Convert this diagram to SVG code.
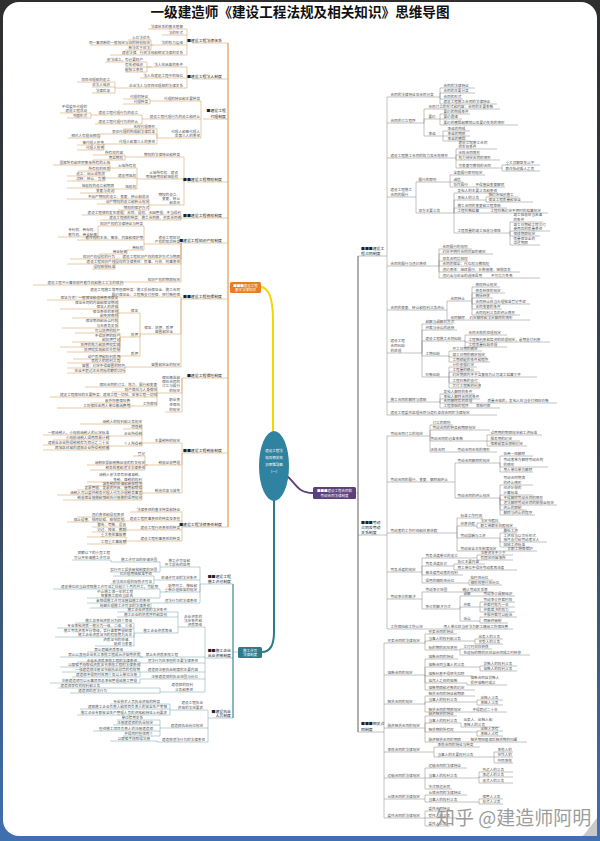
<svg xmlns="http://www.w3.org/2000/svg" width="600" height="841" viewBox="0 0 600 841">
<defs>
<linearGradient id="fr" x1="0" y1="0" x2="0" y2="1"><stop offset="0" stop-color="#2e2e2e"/><stop offset="0.6" stop-color="#3a4a5e"/><stop offset="1" stop-color="#3f70b0"/></linearGradient>
<style>
text{font-family:"Noto Sans CJK SC","Noto Sans",sans-serif;font-size:3.6px;fill:#555}
.tl{text-anchor:end}
.m{font-size:3.9px;fill:#222}
.lo{fill:none;stroke:#d9a56e;stroke-width:.6}
.lr{fill:none;stroke:#8f8f8f;stroke-width:.55}
.lt{fill:none;stroke:#7ea9b1;stroke-width:.55}
.w{fill:#fff;font-size:3.5px;text-anchor:middle}
</style>
</defs>
<rect width="600" height="841" fill="url(#fr)"/>
<rect x="3" y="2" width="594" height="834" rx="16" fill="#fff"/>
<polygon points="583,836 597,818 597,836" fill="#c9c9c9"/>
<text x="300" y="17" style="font-size:13.6px;font-weight:bold;fill:#111;text-anchor:middle">一级建造师《建设工程法规及相关知识》思维导图</text>

<g id="connectors">
<path class="lo" d="M228 43V527M228 287H230M192 43H228M192 79H228M203 119H228M187 182H228M187 218H228M183 243H228M187 299H228M192 378H228M188 453H228M185 527H228M148 29H187V43M162 35H187M153 45H187M110 55H187V43M128 40H151V45H153M90 45H153M125 50H151V45M152 67H187V79M140 78H187M125 88H187V79M105 62H147V67H152M125 67H152M125 72H147V67M77 82H115V88H125M92 87H115M92 93H115V88M153 101H201V119M145 119H201M160 138H201V119M123 99H150V101H153M123 104H150V101M95 115H142V119H145M95 124H142V119M60 113H91V115H95M67 118H91V115M123 129H157V138H160M103 134H157V138M107 144H157V138M68 138H100V134H103M77 145H104V144H107M77 150H104V144M133 157H184V182M140 179H184V182M152 205H184V182M93 155H125V157H133M93 160H125V157M113 168H137V179H140M113 178H137M120 189H137V179M53 165H110V168H113M78 171H110V168M67 176H105V178H113M67 181H105V178M67 188H114V189H120M80 193H114V189M67 199H149V205H152M97 204H149M118 210H149V205M82 215H181V218H187M100 220H181V218M147 244H181V243H183M120 259H181V243M67 264H181V243M126 282H181V243M100 226H144V244H147M77 240H144M130 250H144V244M100 254H127V250H130M58 237H98V226H100M70 259H120M92 269H115V259M33 285H123V282H126M72 297H181V299H187M143 334H181V299M140 367H181V299M123 313H140V334H143M128 337H140V334M128 356H140V334M47 300H118V313H123M60 309H118V313M72 318H118V313M62 328H118V313M75 333H120V337H128M72 342H120V337M60 347H120V337M67 352H120V337M73 359H120V356H128M67 363H120V356M67 368H125V367H140M67 373H125V367M160 393H182V378H192M165 412H182V378M85 387H157V393H160M112 392H157V393M50 397H157V393M135 406H157V393M90 403H130V406H135M57 408H130V406M147 443H182V453H188M148 465H182V453M147 493H182V453M80 424H142V443H147M123 429H142M112 436H142M112 446H142V443M43 435H109V436H112M53 440H109V436M43 445H109V446H112M43 450H109V446M133 456H145V465H148M87 465H148M90 470H145V465M87 482H142V493H147M87 486H142M77 490H142M57 495H142M63 500H142V493M130 512H182V527H185M128 521H182M130 530H182M130 541H182V527M77 517H124V521H128M67 522H124V521M92 527H126V530H130M92 532H126V530M87 537H126V541H130M87 544H126V541"/>
<path d="M228 43V527" stroke="#e39b4f" stroke-width="0.9" fill="none"/>
<path class="lt" d="M233 584V718M233 652H238M208 584H233M208 658H233M212 718H233M163 567H200V584H208M157 580H200M163 592H200V584M155 603H200V584M113 562H160V567H163M110 572H160V567M72 560H111V562H113M113 576H154V580H157M110 584H154V580M53 589H160V592H163M87 598H160V592M87 603H155M90 608H151V603M182 627H205V658H208M143 657H205M143 663H205M143 672H205M143 679H205M163 692H205V658M117 612H178V627H182M117 617H178M137 633H178V627M75 623H134V633H137M57 628H134M55 637H134V633M95 646H134V633M87 652H140V657H143M60 657H143M77 662H140V663H143M60 667H140V663M62 672H143M72 677H140V672M50 683H140V679H143M58 688H160V692H163M70 693H160V692M173 710H208V718H212M163 728H208M160 742H208V718M110 704H170V710H173M80 709H170M77 715H170V710M117 720H160V728H163M113 725H160M93 731H160M123 736H160V728M110 741H157V742H160"/>
<path d="M233 584V718" stroke="#2c7a8c" stroke-width="0.9" fill="none"/>
<path class="lr" d="M358 256V732M356 493H358M358 256H387M387 97V415M387 97H440M440 97V88H475M440 97V93H475M440 97V99H463M440 97V104H497M387 123H424M424 123V109H500M424 123V119H440M424 123V136H443M440 119V114H470M440 119H462M440 119V125H518M443 136V131H470M443 136H470M443 136V141H470M387 158H456M456 158V149H497M456 158V155H480M456 158V160H500M456 158V168H502M502 168V165H540M502 168V171H540M387 197H416M416 197V182H450M416 197V213H454M450 182V175H485M450 182H463M450 182V187H505M454 213V193H498M454 213V200H486M454 213V208H507M454 213H548M454 213V233H510M486 200V197H518M486 200V202H533M510 233V222H543M510 233V231H550M510 233V236H540M510 233V245H540M387 266H439M439 266V249H472M439 266V254H493M439 266V261H468M439 266H490M439 266V272H520M439 266V278H540M387 310H447M447 310V301H472M447 310V320H530M472 301V287H500M472 301V293H505M472 301V298H493M472 301V304H530M472 301V309H502M472 301V315H520M387 353H422M422 353V324H453M422 353V330H457M422 353V341H465M422 353V356H449M422 353V377H449M465 341V335H507M465 341V342H550M465 341V347H507M449 356V351H482M449 356V357H487M449 356V362H490M449 377V367H477M449 377V372H480M449 377H537M449 377V383H480M449 377V388H480M387 402H440M440 402V394H475M440 402V399H480M440 402V403H557M440 402V408H500M387 415H497M358 535H387M387 436V629M387 436H430M430 436V425H453M430 436V430H490M430 436V441H487M430 436V452H497M487 441V435H542M487 441H520M487 441V446H527M387 482H455M455 482V463H500M455 482V498H500M500 463V456H533M500 463V467H548M500 463V472H533M500 498V485H533M500 498V495H533M500 498V500H543M500 498V505H557M500 498V510H527M500 498V515H535M387 533H457M457 533V518H483M457 533V526H477M457 533V538H500M457 533V551H537M477 526V523H500M477 526V528H517M500 538V533H517M500 538V542H547M500 538V547H530M387 572H422M422 572V558H477M422 572V566H454M422 572V575H463M422 572V583H469M477 558V555H513M477 558V560H513M454 566V564H485M454 566V570H517M469 583V580H493M469 583V585H502M387 599H422M422 599V592H493M422 599V609H460M460 609V596H515M460 609V607H480M460 609V621H480M480 607V602H515M480 607H515M480 607V612H515M480 621V617H517M480 621V623H508M387 629H513M358 732H384M384 643V818M384 643H425M425 643V634H457M425 643V641H475M425 643V650H460M475 641V639H503M475 641V644H503M460 650V649H492M460 650V655H530M384 675H425M425 675V659H458M425 675V667H480M425 675V676H473M425 675V683H467M425 675V690H475M480 667V666H517M480 667V671H517M467 683V685H507M384 704H425M425 704V696H475M425 704V702H477M425 704V712H507M477 702V700H503M477 702V705H503M384 728H425M425 728V716H457M425 728V723H461M425 728V732H477M425 728V742H527M461 723V727H500M477 732V731H503M477 732V736H503M384 752H434M434 752V747H480M434 752V757H494M494 757V752H513M494 757H513M494 757V763H513M384 778H425M425 778V768H467M425 778H479M425 778V789H452M479 778V772H513M479 778V777H513M479 778V783H513M384 799H425M425 799V795H467M425 799V802H479M479 802V799H503M479 802V804H503M384 818H425M425 818V811H452M425 818H457M425 818V826H450"/>
<path d="M358 256V732" stroke="#666" stroke-width="0.8" fill="none"/>
<path d="M261 287C270 288 273 300 273 320V433" stroke="#f2d600" stroke-width="2" fill="none"/>
<path d="M287 476C295 482 297 493 313 493" stroke="#5b3f7e" stroke-width="1.8" fill="none"/>
<path d="M274 500V632C274 645 270 652 262 652" stroke="#2c7a8c" stroke-width="2" fill="none"/>
</g>

<g id="center">
<ellipse cx="274" cy="466" rx="15" ry="35" fill="#2f83a1"/>
<text class="w" x="274" y="452">建设工程法</text>
<text class="w" x="274" y="459">规及相关知</text>
<text class="w" x="274" y="466">识思维导图</text>
<text class="w" x="274" y="473">（一）</text>
</g>
<g id="main-orange">
<rect x="230" y="282" width="31" height="11" rx="1.5" fill="#e67e22"/>
<text class="w" x="245.5" y="286.6">■■■建设工程</text>
<text class="w" x="245.5" y="291.2">基本法律知识</text>
</g>
<g id="main-purple">
<rect x="313" y="487" width="43" height="12" rx="1.5" fill="#5b3f7e"/>
<text class="w" x="334.5" y="492">■■■建设工程合同和</text>
<text class="w" x="334.5" y="497">劳动合同法律制度</text>
</g>
<g id="main-teal">
<rect x="238" y="647" width="24" height="11" rx="1.5" fill="#2c7a8c"/>
<text class="w" x="250" y="651.6">施工许可</text>
<text class="w" x="250" y="656.2">法律制度</text>
</g>

<g id="orange-tree" class="tl">
<g id="s1"><text class="tl m" x="222" y="42.2">■建设工程法律体系</text>
<text class="tl" x="183" y="28.2">法律体系的基本框架</text><text class="tl" x="183" y="34.2">法的形式</text><text class="tl" x="183" y="44.2">法的效力层级</text><text class="tl" x="150" y="39.2">上位法优先</text><text class="tl" x="150" y="44.2">同一事项新的一般规定与旧的特别规定</text><text class="tl" x="150" y="49.2">新法优于旧法</text><text class="tl" x="183" y="54.2">建设法律、行政法规和相关法律的关系</text></g>
<g id="s2"><text class="tl m" x="222" y="78.2">■建设工程法人制度</text>
<text class="tl" x="183" y="66.2">法人应具备的条件</text><text class="tl" x="143" y="61.2">依法成立，有必要财产</text><text class="tl" x="143" y="66.2">有名称组织</text><text class="tl" x="143" y="71.2">能独立承担</text><text class="tl" x="183" y="77.2">法人在建设工程中的地位</text><text class="tl" x="183" y="87.2">企业法人与项目经理部的法律关系</text><text class="tl" x="110" y="81.2">项目经理部的设立</text><text class="tl" x="110" y="86.2">非法人组织</text><text class="tl" x="110" y="92.2">法律后果</text></g>
<g id="s3"><text class="tl m" x="226" y="112.2">■建设工程<tspan x="226" y="118.2">代理制度</tspan></text>
<text class="tl" x="200" y="100.2">代理的特征和主要种类</text><text class="tl" x="148" y="98.2">代理的特征</text><text class="tl" x="148" y="103.2">代理种类</text><text class="tl" x="200" y="118.2">建设工程代理行为的设立和终止</text><text class="tl" x="138" y="114.2">建设工程代理行为的设立</text><text class="tl" x="87" y="108.2">不得委托代理的<tspan x="87" y="112.2">建设工程活动</tspan></text><text class="tl" x="87" y="117.2">书面形式</text><text class="tl" x="138" y="123.2">建设工程代理行为的终止</text><text class="tl" x="200" y="133.2">代理人和被代理人<tspan x="200" y="137.2">及第三人的责任</tspan></text><text class="tl" x="155" y="128.2">无权代理情形</text><text class="tl" x="155" y="133.2">表见代理的构成和法律后果</text><text class="tl" x="100" y="137.2">相对人有理由相信</text><text class="tl" x="155" y="143.2">代理人和第三人的责任</text><text class="tl" x="104" y="144.2">被代理人担责</text><text class="tl" x="104" y="149.2">代理人担责</text></g>
<g id="s4"><text class="tl m" x="222" y="181.2">■■建设工程物权制度</text>
<text class="tl" x="180" y="156.2">物权的法律特征和种类</text><text class="tl" x="123" y="154.2">所有权内容</text><text class="tl" x="123" y="159.2">用益物权</text><text class="tl" x="178" y="174.2">土地所有权、建设<tspan x="178" y="178.2">用地使用权和地役权</tspan></text><text class="tl" x="136" y="167.2">土地所有权</text><text class="tl" x="110" y="164.2">国家所有和农民集体所有的土地</text><text class="tl" x="110" y="170.2">所有权的性质</text><text class="tl" x="136" y="177.2">建设用地权</text><text class="tl" x="105" y="175.2">设立：出让或划拨</text><text class="tl" x="105" y="180.2">流转：转让、互换</text><text class="tl" x="136" y="188.2">地役权</text><text class="tl" x="114" y="187.2">地役权的设立和期限</text><text class="tl" x="114" y="192.2">变更与消灭</text><text class="tl" x="180" y="196.2">物权的设立、<tspan x="180" y="200.2">变更、转让</tspan><tspan x="180" y="204.2">和消灭</tspan></text><text class="tl" x="149" y="198.2">不动产物权的设立、变更、转让和消灭</text><text class="tl" x="149" y="203.2">动产物权的设立和转让规定</text><text class="tl" x="149" y="209.2">物权的保护方式</text></g>
<g id="s5"><text class="tl m" x="222" y="217.2">■■建设工程债权制度</text>
<text class="tl" x="181" y="214.2">建设工程债的发生根据：合同、侵权、无因管理、不当得利</text><text class="tl" x="181" y="219.2">建设工程债的种类：施工合同债、买卖合同债</text></g>
<g id="s6"><text class="tl m" x="222" y="242.2">■建设工程知识产权制度</text>
<text class="tl" x="180" y="239.2">建设工程知识<tspan x="180" y="243.2">产权的常见种类</tspan></text><text class="tl" x="143" y="225.2">知识产权的法律特征与种类</text><text class="tl" x="97" y="231.2">专利权、商标权、<tspan x="97" y="236.2">著作权、商业秘密</tspan></text><text class="tl" x="143" y="239.2">著作权的主体、客体、内容和保护期</text><text class="tl" x="143" y="249.2">商标权</text><text class="tl" x="127" y="253.2">商业秘密</text><text class="tl" x="180" y="258.2">建设工程知识产权的保护方式与期限</text><text class="tl" x="115" y="258.2">知识产权侵权的行为</text><text class="tl" x="115" y="268.2">侵权赔偿标准</text><text class="tl" x="180" y="263.2">建设工程知识产权侵权的法律责任：民事、行政、刑事责任</text><text class="tl" x="180" y="281.2">知识产权的期限规定</text><text class="tl" x="123" y="284.2">建设工程中计算机软件著作权和施工工法的保护</text></g>
<g id="s7"><text class="tl m" x="222" y="298.2">■■建设工程担保制度</text>
<text class="tl" x="180" y="291.2">建设工程施工常用担保种类：施工投标保证金、施工合同<tspan x="180" y="296.2">履约保证金、工程款支付担保、预付款担保</tspan></text><text class="tl" x="173" y="329.2">保证、抵押、质押<tspan x="173" y="333.2">留置和定金</tspan></text><text class="tl" x="138" y="312.2">保证</text><text class="tl" x="118" y="299.2">保证方式：一般保证和连带责任保证</text><text class="tl" x="118" y="304.2">保证合同的内容和保证期间<tspan x="118" y="308.2">保证人的资格</tspan></text><text class="tl" x="118" y="312.6">保证责任的承担<tspan x="118" y="317.2">和免除情形</tspan></text><text class="tl" x="118" y="322.2">保证期间和诉讼时效<tspan x="118" y="327.2">与主债务关系</tspan></text><text class="tl" x="138" y="336.2">抵押</text><text class="tl" x="120" y="332.2">可以抵押的财产</text><text class="tl" x="120" y="336.6">不得抵押的财产<tspan x="120" y="341.2">和抵押登记</tspan></text><text class="tl" x="120" y="346.2">抵押的效力和抵押权实现</text><text class="tl" x="120" y="351.2">抵押权实现和优先受偿</text><text class="tl" x="138" y="355.2">质押</text><text class="tl" x="120" y="358.2">动产质押和权利质押</text><text class="tl" x="120" y="362.4">质权人的权利义务</text><text class="tl" x="180" y="366.2">留置和定金的规定</text><text class="tl" x="125" y="367.4">留置：约定不得留置的除外</text><text class="tl" x="125" y="372.2">定金不超过主合同标的额的20%</text></g>
<g id="s8"><text class="tl m" x="222" y="377.2">■建设工程保险制度</text>
<text class="tl" x="180" y="379.2">保险概念和<tspan x="180" y="383.2">保险合同的</tspan><tspan x="180" y="387.2">订立与履行</tspan><tspan x="180" y="392.2">的规定</tspan></text><text class="tl" x="157" y="386.2">保险合同的订立、效力、履行和变更</text><text class="tl" x="157" y="391.2">财产保险与人身保险</text><text class="tl" x="157" y="396.2">建设工程保险的主要种类：建筑工程一切险、安装工程一切险</text><text class="tl" x="157" y="405.2">工伤保险</text><text class="tl" x="130" y="402.2">意外伤害保险费</text><text class="tl" x="130" y="407.2">工伤保险由用人单位缴纳费用</text><text class="tl" x="180" y="401.2">职业责<tspan x="180" y="406.2">任保险</tspan><tspan x="180" y="411.2">的规定</tspan></text></g>
<g id="s9"><text class="tl m" x="222" y="452.2">■■建设工程税收制度</text>
<text class="tl" x="180" y="442.2">主要税种的规定</text><text class="tl" x="142" y="423.2">纳税人的权利和义务规定</text><text class="tl" x="142" y="428.2">增值税</text><text class="tl" x="142" y="435.2">企业所得税</text><text class="tl" x="109" y="434.2">一般纳税人，小规模纳税人的认定标准</text><text class="tl" x="109" y="439.2">小规模纳税人适用简易计税</text><text class="tl" x="142" y="445.2">个人所得税</text><text class="tl" x="109" y="444.2">建筑业企业所得税税率为百分之二十五</text><text class="tl" x="109" y="449.2">跨地区经营的建筑企业所得税预缴</text><text class="tl" x="180" y="464.2">税收征收管理</text><text class="tl" x="145" y="455.2">登记</text><text class="tl" x="145" y="464.2">纳税申报和税款征收的有关规定</text><text class="tl" x="145" y="469.2">税务检查和违法法律责任</text><text class="tl" x="180" y="492.2">税收优惠与减免</text><text class="tl" x="142" y="476.2">纳税人依法享有申请减税、<tspan x="142" y="481.2">免税、退税的权利</tspan></text><text class="tl" x="142" y="485.2">减免税的申请和审批程序</text><text class="tl" x="142" y="489.2">发票管理：发票的开具、使用和取得</text><text class="tl" x="142" y="494.2">纳税人可以委托税务代理人代为办理税务事宜</text><text class="tl" x="142" y="499.2">税收保全措施和强制执行措施的适用规定</text></g>
<g id="s10"><text class="tl m" x="222" y="526.2">■建设工程法律责任制度</text>
<text class="tl" x="180" y="511.2">法律责任的基本种类和特征</text><text class="tl" x="180" y="520.2">建设工程民事责任的种类及承担</text><text class="tl" x="124" y="516.2">违约责任和侵权责任</text><text class="tl" x="124" y="521.2">停止侵害、排除妨碍、赔偿损失</text><text class="tl" x="180" y="529.2">建设工程行政责任的种类</text><text class="tl" x="126" y="526.2">警告、罚款、没收</text><text class="tl" x="126" y="531.2">记过、降级、撤职</text><text class="tl" x="180" y="540.2">建设工程刑事责任的种类</text><text class="tl" x="126" y="536.2">重大责任事故罪</text><text class="tl" x="126" y="543.2">工程重大事故罪</text></g>
</g>

<g id="teal-tree">
<g id="t1"><text class="tl m" x="231" y="578.2">■■建设工程<tspan x="231" y="583.2">施工许可制度</tspan></text>
<text class="tl" x="190" y="562.2">施工许可证和<tspan x="190" y="566.2">开工报告的适用</tspan></text><text class="tl" x="157" y="561.2">施工许可证的申请范围</text><text class="tl" x="110" y="554.2">限额以下的小型工程<tspan x="110" y="559.2">可以不申请施工许可证</tspan></text><text class="tl" x="157" y="571.2">实行开工报告审批制度的范围</text><text class="tl" x="197" y="579.2">申请许可证的法定条件</text><text class="tl" x="152" y="575.2">已办理用地批准手续</text><text class="tl" x="152" y="583.2">依法应办理的规划许可证</text><text class="tl" x="197" y="587.2">延期开工、核验和<tspan x="197" y="591.2">重新办理批准的规定</tspan></text><text class="tl" x="158" y="588.2">建设单位应当自领取施工许可证之日起三个月内开工，可延期</text><text class="tl" x="133" y="593.4">中止施工满一年的工程<tspan x="133" y="597.4">恢复施工前应当报告</tspan></text><text class="tl" x="197" y="602.2">违法行为的法律责任</text><text class="tl" x="150" y="602.2">未取得施工许可证擅自施工的责任</text><text class="tl" x="150" y="607.2">规避办理施工许可证的法律责任</text></g>
<g id="t2"><text class="tl m" x="231" y="652.2">■■施工企业<tspan x="231" y="657.2">从业资格制度</tspan></text>
<text class="tl" x="202" y="618.2">企业资质的<tspan x="202" y="622.2">法定条件和</tspan><tspan x="202" y="626.2">资质等级</tspan></text><text class="tl" x="167" y="611.2">施工企业资质的法定条件</text><text class="tl" x="167" y="616.2">施工企业的资质序列和类别</text><text class="tl" x="172" y="632.2">施工企业资质等级</text><text class="tl" x="132" y="622.2">施工总承包资质分为四个等级</text><text class="tl" x="132" y="627.2">专业承包资质一般分为一级、二级、三级</text><text class="tl" x="132" y="632.2">施工劳务资质不分等级，实行备案管理制度<tspan x="132" y="636.2">施工企业资质证书的有效期为五年</tspan></text><text class="tl" x="132" y="641.2">资质证书的申请、<tspan x="132" y="645.2">延续与变更</tspan></text><text class="tl" x="178" y="656.2">禁止无资质承揽工程</text><text class="tl" x="123" y="651.2">禁止超越资质等级</text><text class="tl" x="140" y="656.2">禁止以其他企业名义承揽工程或允许借用资质</text><text class="tl" x="198" y="662.2">违法行为应承担的主要法律责任</text><text class="tl" x="137" y="661.6">企业无资质承揽工程的法律责任</text><text class="tl" x="140" y="666.2">以欺骗手段取得资质证书承揽工程的法律责任</text><text class="tl" x="198" y="671.2">建造师注册执业制度的主要内容</text><text class="tl" x="140" y="671.2">一级建造师注册证书和执业印章的有效期</text><text class="tl" x="137" y="676.2">建造师不得同时在两个及以上单位注册</text><text class="tl" x="198" y="678.2">注册建造师的执业范围与岗位</text><text class="tl" x="137" y="682.2">注册建造师可以从事项目总承包管理或施工管理</text><text class="tl" x="193" y="686.2">建造师的权利<tspan x="193" y="691.2">义务和责任</tspan></text><text class="tl" x="100" y="687.2">建造师享有的权利和义务</text><text class="tl" x="107" y="692.2">建造师的违法行为</text></g>
<g id="t3"><text class="tl m" x="231" y="713.2">■建设执业<tspan x="231" y="717.2">人员制度</tspan></text>
<text class="tl" x="203" y="704.2">建设工程执业<tspan x="203" y="709.2">资格的法定要求</tspan></text><text class="tl" x="160" y="703.2">专业技术人员执业资格的种类</text><text class="tl" x="167" y="708.2">建筑施工企业负责人和项目负责人的安全生产考核</text><text class="tl" x="167" y="714.2">施工企业专职安全生产管理人员的资格和持证上岗要求</text><text class="tl" x="203" y="727.2">建造师执业岗位规定</text><text class="tl" x="143" y="719.2">单位聘用关系</text><text class="tl" x="153" y="724.2">注册建造师的执业规定</text><text class="tl" x="153" y="730.2">担任施工项目负责人的注册建造师</text><text class="tl" x="153" y="735.2">不得同时担任两个</text><text class="tl" x="205" y="741.2">建造师违法行为的法律责任</text><text class="tl" x="150" y="740.2">以欺骗手段取得注册</text></g>
</g>

<g id="right-tree">
<g id="r1"><text class="m" x="361" y="250">■■■建设工<tspan x="361" y="255.2">程合同制度</tspan></text>
<text x="390.5" y="96.2">合同的法律特征及合同分类</text><text x="443.5" y="87.2">合同的法律特征</text><text x="443.5" y="92.2">合同的主要分类</text><text x="443.5" y="98.2">合同的形式</text><text x="443.5" y="103.2">建设工程施工合同的法律特征</text>
<text x="390.5" y="122.2">合同的订立程序</text><text x="428.5" y="108.2">合同订立的形式和内容：合同的主要条款</text><text x="428.5" y="118.2">要约</text><text x="443.5" y="113.2">要约的构成条件</text><text x="443.5" y="118.2">要约邀请</text><text x="443.5" y="124.2">要约的撤回和撤销以及要约失效的情形</text><text x="428.5" y="135.2">承诺</text><text x="447.5" y="130.2">承诺的构成</text><text x="447.5" y="135.2">承诺的期限</text><text x="447.5" y="140.2">承诺的撤回</text>
<text x="390.5" y="157.2">建设工程施工合同的效力及无效情形</text><text x="458.5" y="144.2">建设工程施工合同<tspan x="458.5" y="148.2">的生效条件</tspan></text><text x="458.5" y="154.2">无效合同情形</text><text x="458.5" y="159.2">效力待定合同的情形</text><text x="458.5" y="167.2">可变更可撤销的合同</text><text x="505.5" y="164.2">重大误解显失公平</text><text x="505.5" y="170.2">欺诈胁迫乘人之危</text>
<text x="390.5" y="191.2">建设工程施工<tspan x="390.5" y="196.2">合同的履行</tspan></text><text x="418.5" y="181.2">履行的原则</text><text x="453.5" y="174.2">全面履行原则规定</text><text x="453.5" y="181.2">诚信</text><text x="453.5" y="186.2">协作履行</text><text x="475.5" y="186.2">不得擅自变更解除</text><text x="418.5" y="212.2">双方主要义务</text><text x="457.5" y="192.2">发包人的主要义务和责任</text><text x="457.5" y="199.2">承包人的义务</text><text x="488.5" y="196.2">按约定组织施工</text><text x="488.5" y="201.2">保证工程质量和安全</text><text x="457.5" y="207.2">施工合同的变更和工程索赔</text><text x="457.5" y="212.2">工程价款结算</text><text x="490.5" y="212.2">工程价款约定不明时的结算规定</text><text x="457.5" y="232.2">工程质量的竣工验收与保修</text><text x="513.5" y="216.2">竣工验收应当具备<tspan x="513.5" y="221.2">的条件</tspan></text><text x="513.5" y="225.6">竣工日期和工程交付<tspan x="513.5" y="230.2">使用后的质量责任</tspan></text><text x="513.5" y="235.2">保修期限规定</text><text x="513.5" y="240.2">质量保证金的<tspan x="513.5" y="244.2">返还期限</tspan></text>
<text x="390.5" y="265.2">合同的履行与违约责任</text><text x="442.5" y="248.2">合同履行的规则</text><text x="442.5" y="253.2">约定不明时合同内容的确定</text><text x="442.5" y="260.2">双务合同抗辩权</text><text x="442.5" y="265.2">合同的保全：代位权与撤销权</text><text x="442.5" y="271.2">违约责任：继续履行、补救措施、赔偿损失</text><text x="442.5" y="277.2">违约金与定金的选择适用</text><text x="491" y="277.2">不可抗力免责</text>
<text x="390.5" y="309.2">合同的变更、转让和权利义务终止</text><text x="450.5" y="300.2">合同转让</text><text x="475.5" y="286.2">债权转让规定</text><text x="475.5" y="292.2">债务转移的规定</text><text x="475.5" y="297.2">概括转移</text><text x="475.5" y="303.2">合同转让应当办理批准登记手续</text><text x="475.5" y="308.2">合同变更的条件</text><text x="475.5" y="314.2">合同权利义务的终止情形</text><text x="450.5" y="319.2">合同解除</text><text x="469.5" y="319.2">约定解除和法定解除的情形</text>
<text x="390.5" y="342.2">建设工程<tspan x="390.5" y="347.2">合同纠纷</tspan><tspan x="390.5" y="352.2">的处理</tspan></text><text x="425.5" y="323.2">和解与调解的方式</text><text x="425.5" y="329.2">仲裁与诉讼的选择</text><text x="425.5" y="340.2">建设工程施工合同纠纷</text><text x="468.5" y="334.2">合同无效的处理规定</text><text x="468.5" y="341.2">工程款利息和垫资的处理规定，逾期支付利息</text><text x="468.5" y="346.2">工程质量纠纷处理</text><text x="425.5" y="355.2">工期纠纷</text><text x="452.5" y="350.2">开工日期的确定</text><text x="452.5" y="356.2">竣工日期的确定规定</text><text x="452.5" y="361.2">工期顺延的条件和程序</text><text x="425.5" y="376.2">价款纠纷</text><text x="452.5" y="366.2">计价依据约定</text><text x="452.5" y="371.2">工程量的确认</text><text x="452.5" y="376.2">约定期限内不予答复视为认可竣工结算文件</text><text x="452.5" y="382.2">工程价款的支付</text><text x="452.5" y="387.2">欠付工程款的利息</text>
<text x="390.5" y="401.2">施工合同的解除与索赔</text><text x="443.5" y="393.2">发包人解除的条件</text><text x="443.5" y="398.2">承包人解除合同的条件</text><text x="443.5" y="402.4">合同解除后的处理</text><text x="487.5" y="402.4">质量合格的，发包人应当支付相应价款</text><text x="443.5" y="407.2">工程索赔的程序</text><text x="476" y="407.2">索赔时限</text>
<text x="390.5" y="414.2">建设工程委托监理合同与造价咨询合同的法律规定</text></g>
<g id="r2"><text class="m" x="361" y="524.2">■■■劳动<tspan x="361" y="529.2">合同及劳动</tspan><tspan x="361" y="534.2">关系制度</tspan></text>
<text x="390.5" y="435.2">劳动合同订立的规定</text><text x="432.5" y="424.2">订立的原则</text><text x="432.5" y="429.2">劳动合同的种类和期限规定</text><text x="430.5" y="440.2">劳动合同的必备条款</text><text x="490.5" y="434.2">试用期的期限规定和工资标准</text><text x="490.5" y="440.2">服务期的约定</text><text x="490.5" y="445.2">保密和竞业限制约定</text><text x="430.5" y="451.2">无效合同</text><text x="457.5" y="451.2">劳动合同无效的情形</text>
<text x="390.5" y="481.2">劳动合同的履行、变更、解除和终止</text><text x="457.5" y="462.2">劳动合同解除的规定</text><text x="503.5" y="455.2">协商一致解除</text><text x="503.5" y="461.2">劳动者单方解除劳动合同<tspan x="503.5" y="466.2">的情形</tspan></text><text x="503.5" y="471.2">用人单位单方解除</text><text x="457.5" y="497.2">劳动合同的终止规定</text><text x="503.5" y="479.2">劳动合同期满<tspan x="503.5" y="484.2">的终止情形</tspan></text><text x="503.5" y="489.2">经济补偿的<tspan x="503.5" y="494.2">计算标准</tspan></text><text x="503.5" y="499.2">不得解除劳动合同的情形</text><text x="503.5" y="504.2">违法解除劳动合同的赔偿金规定</text><text x="503.5" y="509.2">终止的限制</text><text x="503.5" y="514.2">解除与终止的程序</text>
<text x="390.5" y="532.2">劳动者的工作时间和休息休假</text><text x="460.5" y="517.2">标准工作时间</text><text x="460.5" y="525.2">休息休假</text><text x="480.5" y="522.2">法定节假日</text><text x="480.5" y="527.2">职工带薪年休假规定</text><text x="460.5" y="537.2">劳动报酬与工资</text><text x="503.5" y="532.2">最低工资</text><text x="503.5" y="537.2">工资应当以货币形式<tspan x="503.5" y="541.2">按月支付给劳动者本人</tspan></text><text x="503.5" y="546.2">加班工资标准</text><text x="460.5" y="550.2">劳动安全卫生制度规定</text><text x="507.5" y="550.2">女职工特殊保护</text>
<text x="390.5" y="571.2">劳务派遣的规定</text><text x="425.5" y="557.2">劳务派遣单位的设立</text><text x="480.5" y="554.2">注册资本不少于</text><text x="480.5" y="559.2">有固定经营场所</text><text x="425.5" y="565.2">劳务派遣协议</text><text x="457.5" y="563.2">协议主要内容</text><text x="457.5" y="569.2">用工单位不得将劳动者再派遣</text><text x="425.5" y="574.2">被派遣劳动者的权利</text><text x="425.5" y="582.2">适用的辅助性岗位</text><text x="470.5" y="579.2">临时性岗位</text><text x="470.5" y="584.2">辅助性替代性岗位</text>
<text x="390.5" y="598.2">劳动争议的解决</text><text x="425.5" y="591.2">劳动争议范围</text><text x="462.5" y="591.2">确认劳动关系等</text><text x="425.5" y="608.2">争议的解决方式</text><text x="463.5" y="595.2">调解</text><text x="483.5" y="595.2">劳动争议调解组织</text><text x="463.5" y="606.2">仲裁</text><text x="483.5" y="601.2">劳动争议仲裁时效</text><text x="483.5" y="606.2">仲裁时效为一年</text><text x="483.5" y="611.2">仲裁裁决的效力</text><text x="463.5" y="620.2">诉讼</text><text x="483.5" y="616.2">不服仲裁可以起诉</text><text x="483.5" y="622.2">两审终审制</text>
<text x="390.5" y="628.2">工伤保险和工伤认定</text><text x="443.5" y="628.2">用人单位应当依法为职工缴纳工伤保险费</text></g>
<g id="r3"><text class="m" x="361" y="725.2">■■■相关合<tspan x="361" y="731.2">同制度</tspan></text>
<text x="387.5" y="642.2">买卖合同的法律规定</text><text x="428.5" y="633.2">买卖合同的特征</text><text x="428.5" y="640.2">当事人的权利和义务</text><text x="428.5" y="649.2">标的物的风险承担</text><text x="478.5" y="638.2">出卖人的义务</text><text x="478.5" y="643.2">买受人的义务</text><text x="463.5" y="648.2">交付时风险转移</text><text x="463.5" y="654.2">在途标的物的风险自合同成立时转移</text>
<text x="387.5" y="674.2">借款合同的规定</text><text x="428.5" y="658.2">借款合同的特征</text><text x="428.5" y="666.2">借款合同当事人的义务</text><text x="428.5" y="675.2">借款利息不得预先扣除</text><text x="428.5" y="682.2">自然人之间的借款</text><text x="428.5" y="689.2">借款期限和还款的约定</text><text x="483.5" y="665.2">贷款人的权利义务</text><text x="483.5" y="670.2">借款人的权利义务</text><text x="470.5" y="679.2">借款合同自贷款人<tspan x="470.5" y="684.2">提供借款时成立</tspan></text>
<text x="387.5" y="703.2">租赁合同的规定</text><text x="428.5" y="695.2">租赁合同的特征和期限</text><text x="428.5" y="701.2">当事人的权利义务</text><text x="428.5" y="711.2">租赁合同的期限规定</text><text x="480.5" y="699.2">出租人义务</text><text x="480.5" y="704.2">承租人义务</text><text x="472.5" y="711.2">不得超过二十年</text>
<text x="387.5" y="727.2">融资租赁合同的规定</text><text x="428.5" y="715.2">融资租赁的特征</text><text x="428.5" y="722.2">当事人的权利义务</text><text x="428.5" y="731.2">租赁物的所有权</text><text x="428.5" y="741.2">融资租赁合同的期限</text><text x="463.5" y="721.2">出卖人、出租人和<tspan x="463.5" y="726.2">承租人的义务</tspan></text><text x="480.5" y="730.2">出租人享有</text><text x="480.5" y="735.2">承租人占有</text><text x="470.5" y="741.2">租赁期间届满后租赁物的归属</text>
<text x="387.5" y="751.2">承揽合同的法律规定</text><text x="437.5" y="746.2">承揽合同的特征与种类</text><text x="437.5" y="756.2">当事人的主要权利义务</text><text x="497.5" y="751.2">承揽人的</text><text x="497.5" y="756.2">定作人的</text><text x="497.5" y="762.2">共同承揽</text>
<text x="387.5" y="777.2">运输合同的法律规定</text><text x="428.5" y="767.2">运输合同的法律特征</text><text x="428.5" y="777.2">当事人的权利义务</text><text x="428.5" y="788.2">多式联运合同</text><text x="482.5" y="771.2">托运人的义务</text><text x="482.5" y="776.2">承运人的义务</text><text x="482.5" y="782.2">收货人的义务</text>
<text x="387.5" y="798.2">仓储合同的法律规定</text><text x="428.5" y="794.2">仓储合同的法律特征</text><text x="428.5" y="801.2">当事人的权利义务</text><text x="482.5" y="798.2">保管人义务</text><text x="482.5" y="803.2">存货人义务</text>
<text x="387.5" y="817.2">委托合同的法律规定</text><text x="428.5" y="810.2">委托合同特征</text><text x="428.5" y="817.2">受托人的义务</text><text x="428.5" y="825.2">委托人义务</text></g>
</g>

<text x="436" y="825" style="font-size:19px;fill:#8c8c8c;opacity:.85">知乎 @建造师阿明</text>
</svg>
